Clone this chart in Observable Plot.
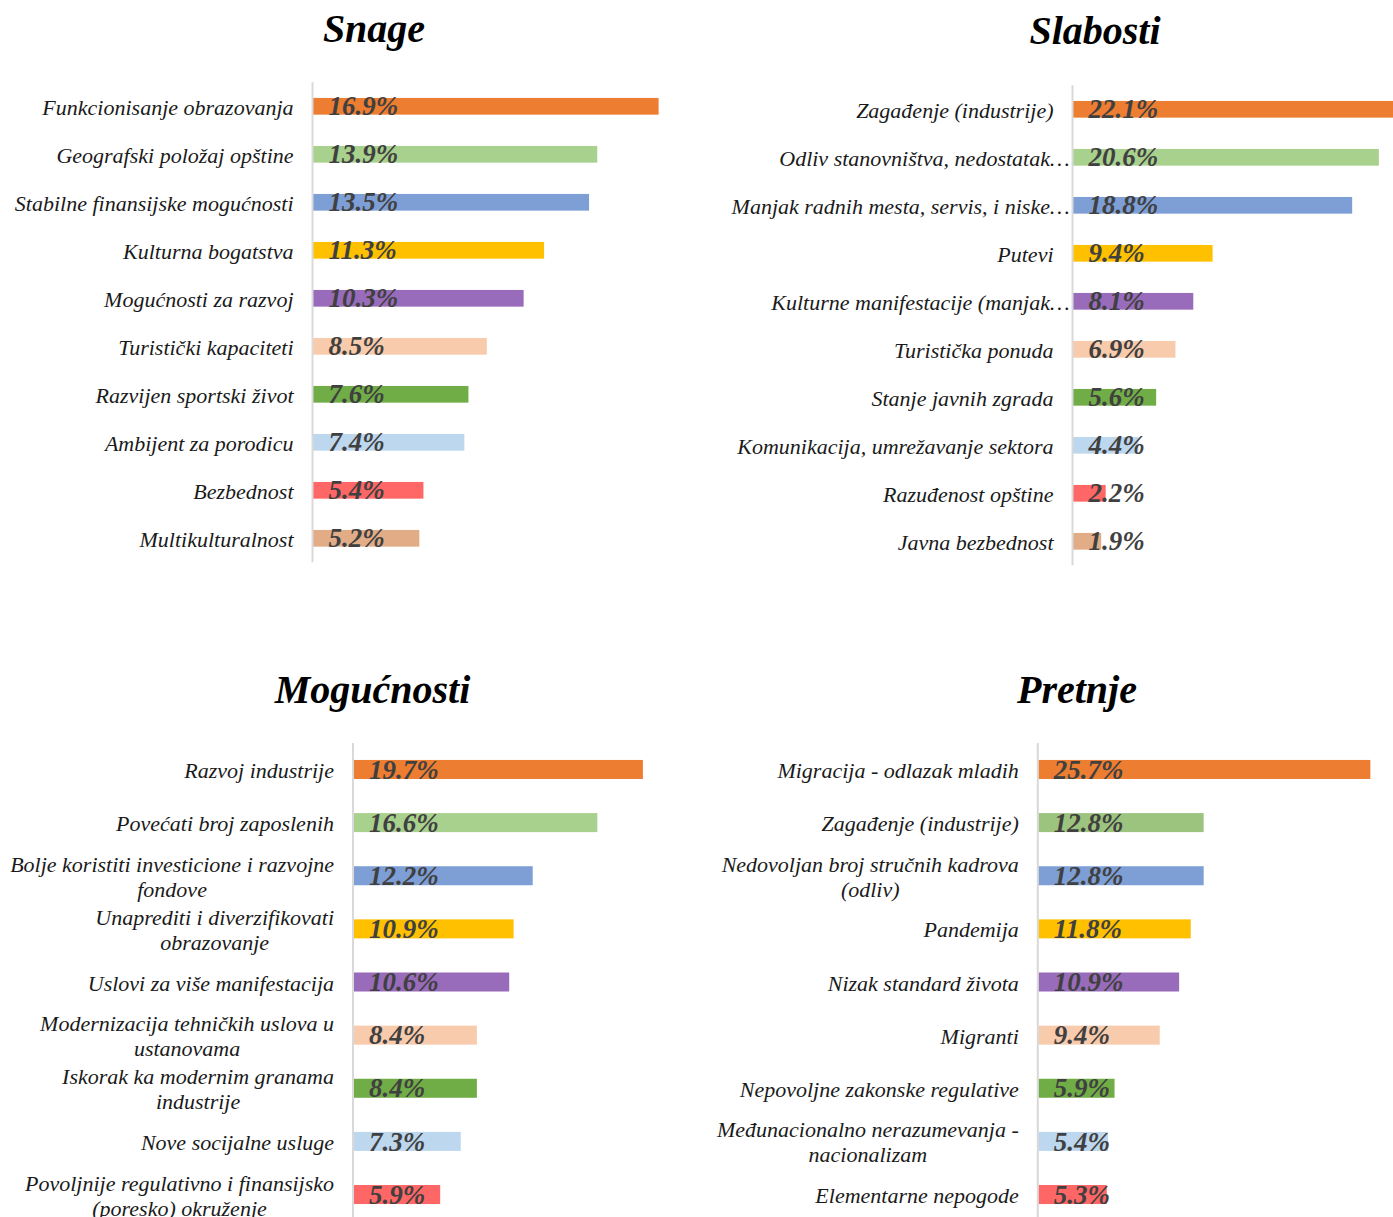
<!DOCTYPE html>
<html>
<head>
<meta charset="utf-8">
<script src="https://cdn.jsdelivr.net/npm/d3@7"></script>
<script src="https://cdn.jsdelivr.net/npm/@observablehq/plot@0.6"></script>
<style>
  html, body { margin: 0; padding: 0; background: #fff; }
  body { width: 1393px; height: 1217px; overflow: hidden; position: relative; font-family: "Liberation Serif", serif; }
  .panel { position: absolute; }
  .title { position: absolute; width: 400px; text-align: center; font: italic bold 40px/40px "Liberation Serif", serif; color: #000; }
  svg { max-width: none !important; }
</style>
</head>
<body>
<script>
// ---------- DATA ----------
const snageCats = ["Funkcionisanje obrazovanja", "Geografski položaj opštine", "Stabilne finansijske mogućnosti", "Kulturna bogatstva", "Mogućnosti za razvoj", "Turistički kapaciteti", "Razvijen sportski život", "Ambijent za porodicu", "Bezbednost", "Multikulturalnost"];
const snageVals = [16.9, 13.9, 13.5, 11.3, 10.3, 8.5, 7.6, 7.4, 5.4, 5.2];

const slabostiCats = ["Zagađenje (industrije)", "Odliv stanovništva, nedostatak…", "Manjak radnih mesta, servis, i niske…", "Putevi", "Kulturne manifestacije (manjak…", "Turistička ponuda", "Stanje javnih zgrada", "Komunikacija, umrežavanje sektora", "Razuđenost opštine", "Javna bezbednost"];
const slabostiVals = [22.1, 20.6, 18.8, 9.4, 8.1, 6.9, 5.6, 4.4, 2.2, 1.9];

const mogucnostiCats = ["Razvoj industrije", "Povećati broj zaposlenih", "Bolje koristiti investicione i razvojne\nfondove", "Unaprediti i diverzifikovati\nobrazovanje", "Uslovi za više manifestacija", "Modernizacija tehničkih uslova u\nustanovama", "Iskorak ka modernim granama\nindustrije", "Nove socijalne usluge", "Povoljnije regulativno i finansijsko\n(poresko) okruženje"];
const mogucnostiVals = [19.7, 16.6, 12.2, 10.9, 10.6, 8.4, 8.4, 7.3, 5.9];

const pretnjeCats = ["Migracija - odlazak mladih", "Zagađenje (industrije)", "Nedovoljan broj stručnih kadrova\n(odliv)", "Pandemija", "Nizak standard života", "Migranti", "Nepovoljne zakonske regulative", "Međunacionalno nerazumevanja -\nnacionalizam", "Elementarne nepogode"];
const pretnjeVals = [25.7, 12.8, 12.8, 11.8, 10.9, 9.4, 5.9, 5.4, 5.3];

const palette = ["#ED7D31", "#A9D18E", "#7E9FD6", "#FFC000", "#996CBB", "#F8CBAD", "#70AD47", "#BDD7EE", "#FF6666", "#E2AC87"];
const pretnjePalette = ["#ED7D31", "#9DC47F", "#7E9FD6", "#FFC000", "#996CBB", "#F8CBAD", "#70AD47", "#BDD7EE", "#FF6666"];

// ---------- LAYOUT ----------
const labelFont = "italic 22px 'Liberation Serif'";
const canvas = document.createElement("canvas");
const ctx = canvas.getContext("2d");
ctx.font = labelFont;
function blockWidth(s) { return Math.max(...s.split("\n").map(l => ctx.measureText(l).width)); }

function drawPanel(cfg) {
  const data = cfg.cats.map((c, i) => ({cat: c, v: cfg.vals[i], color: cfg.colors[i], w: blockWidth(c)}));
  const k = cfg.k;
  const xmax = 30;
  const p = cfg.padding;

  const div = document.createElement("div");
  div.className = "panel";
  div.style.left = cfg.left + "px";
  div.style.top = cfg.top + "px";
  div.style.width = cfg.width + "px";
  div.style.height = cfg.height + "px";

  const chart = Plot.plot({
    width: cfg.width,
    height: cfg.height,
    marginLeft: cfg.axisX,
    marginRight: 0,
    marginTop: cfg.yTop,
    marginBottom: cfg.height - cfg.yBottom,
    style: {fontFamily: "Liberation Serif", background: "transparent"},
    x: {domain: [0, xmax], range: [cfg.axisX, cfg.axisX + k * xmax], axis: null},
    y: {domain: cfg.cats, range: [cfg.yTop, cfg.yBottom], paddingInner: p, paddingOuter: p / 2, round: false, axis: null},
    color: {type: "identity"},
    marks: [
      Plot.barX(data, {x: "v", y: "cat", fill: "color"}),
      Plot.ruleX([0], {stroke: "#d9d9d9", strokeWidth: 2, dx: -1}),
      Plot.text(data, {
        x: d => -((d.cat.endsWith("…") ? 4 : 20) + d.w / 2) / k,
        y: "cat", text: "cat", textAnchor: "middle", lineAnchor: "middle",
        lineHeight: 1.14, fontSize: 22, fontStyle: "italic", fill: "#1a1a1a"
      }),
      Plot.text(data, {
        x: 0, y: "cat", text: d => d.v.toFixed(1) + "%", dx: 15, textAnchor: "start",
        fontSize: 27, fontWeight: "bold", fontStyle: "italic", fill: "#404040"
      })
    ]
  });
  div.appendChild(chart);
  document.body.appendChild(div);

  const t = document.createElement("div");
  t.className = "title";
  t.textContent = cfg.title;
  t.style.left = (cfg.titleCx - 200) + "px";
  t.style.top = (cfg.titleBaseline - 33.5) + "px";
  document.body.appendChild(t);
}

drawPanel({title: "Snage", titleCx: 374, titleBaseline: 42,
  cats: snageCats, vals: snageVals, colors: palette,
  left: 0, top: 60, width: 700, height: 520, axisX: 313, k: 20.45,
  yTop: 82.3 - 60, yBottom: 562.3 - 60, padding: 0.652});

drawPanel({title: "Slabosti", titleCx: 1095, titleBaseline: 44,
  cats: slabostiCats, vals: slabostiVals, colors: palette,
  left: 700, top: 60, width: 693, height: 520, axisX: 373, k: 14.85,
  yTop: 85.3 - 60, yBottom: 565.3 - 60, padding: 0.652});

drawPanel({title: "Mogućnosti", titleCx: 372.5, titleBaseline: 703,
  cats: mogucnostiCats, vals: mogucnostiVals, colors: palette,
  left: 0, top: 720, width: 700, height: 510, axisX: 353.5, k: 14.69,
  yTop: 742.9 - 720, yBottom: 1221.1 - 720, padding: 0.642});

drawPanel({title: "Pretnje", titleCx: 1077, titleBaseline: 703,
  cats: pretnjeCats, vals: pretnjeVals, colors: pretnjePalette,
  left: 700, top: 720, width: 693, height: 510, axisX: 338.3, k: 12.92,
  yTop: 742.9 - 720, yBottom: 1221.1 - 720, padding: 0.642});
</script>
</body>
</html>
